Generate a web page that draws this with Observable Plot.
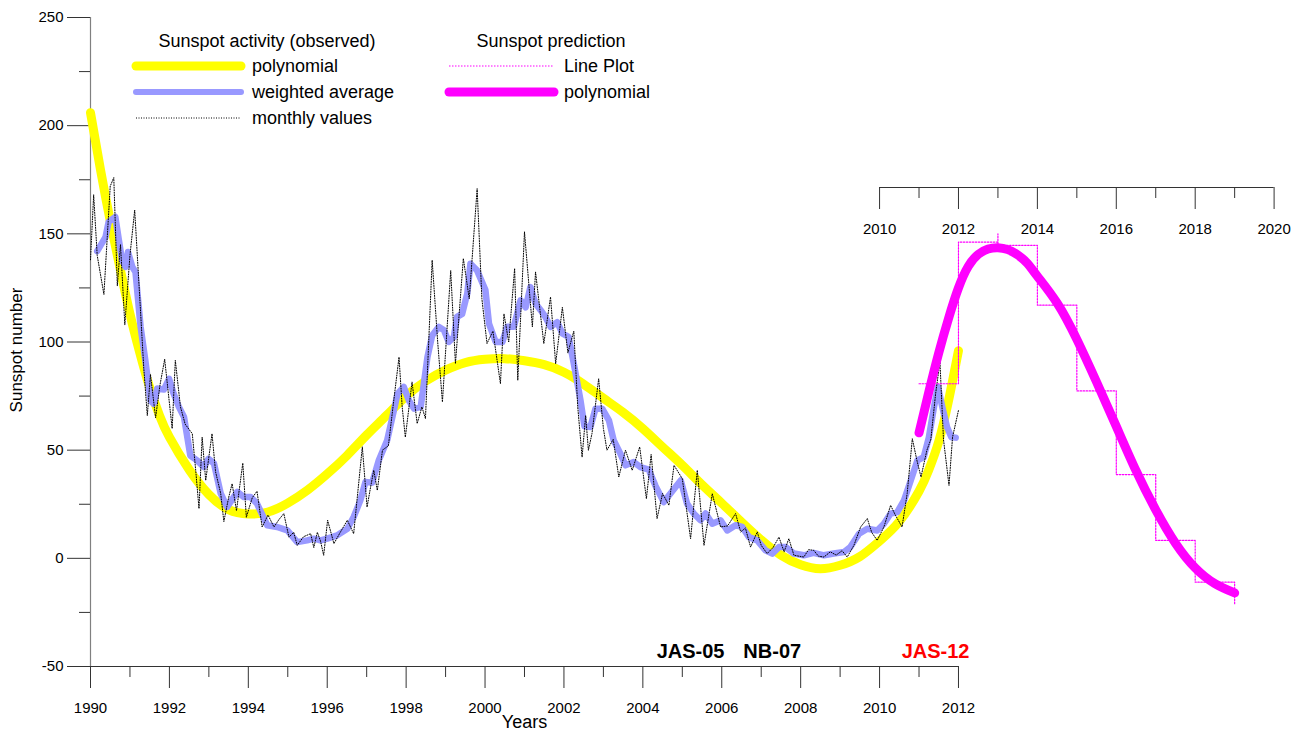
<!DOCTYPE html>
<html>
<head>
<meta charset="utf-8">
<script src="https://cdn.jsdelivr.net/npm/d3@7"></script>
<script src="https://cdn.jsdelivr.net/npm/@observablehq/plot@0.6"></script>
<style>
  body { margin: 0; background: #fff; font-family: Arial, "Liberation Sans", sans-serif; }
  #wrap { position: relative; width: 1300px; height: 736px; }
  #wrap svg { display: block; }
</style>
</head>
<body>
<div id="wrap"></div>
<script>
// ---------------- DATA ----------------
// Observed sunspot activity – polynomial fit
const polyObsYears  = [1990,1990.25,1990.5,1990.75,1991,1991.25,1991.5,1991.75,1992,1992.5,1993,1993.5,1994,1994.5,1995,1995.5,1996,1996.5,1997,1997.5,1998,1998.5,1999,1999.5,2000,2000.5,2001,2001.5,2002,2002.5,2003,2003.5,2004,2004.5,2005,2005.5,2006,2006.5,2007,2007.5,2008,2008.5,2009,2009.5,2010,2010.5,2011,2011.25,2011.5,2011.75,2012];
const polyObsValues = [206,180,156,134,113,95,79,66,56,41,29.5,22.5,20.5,21.4,25.5,31.5,39,47.5,57,66,75,82,87,90.5,92,92.3,91.3,89.5,86,80.5,74,67.5,60,51.5,43,34,25.5,16.8,8.5,1.5,-3,-4.8,-3.2,0.8,8,17,31,41,54,73,96];

// Observed – weighted average  [year, value]
const weightedAverage = [[1990.17,142],[1990.38,148.5],[1990.46,155.5],[1990.63,157.8],[1990.72,147],[1990.80,137.8],[1990.89,134.7],[1990.95,141.6],[1991.06,134.7],[1991.14,132.4],[1991.27,107],[1991.39,91.5],[1991.52,73],[1991.60,71.5],[1991.69,78.5],[1991.86,78],[1991.99,83],[1992.11,76],[1992.24,70],[1992.37,65.3],[1992.53,47.5],[1992.70,45.3],[1992.87,42.2],[1992.99,46],[1993.13,43.8],[1993.30,30],[1993.46,23.7],[1993.72,30.7],[1993.89,28.3],[1994.06,28.3],[1994.22,25.3],[1994.48,15.3],[1994.73,14.5],[1994.99,12.9],[1995.24,7.5],[1995.49,8.3],[1995.66,9.1],[1995.83,8.3],[1996.00,9.1],[1996.25,10.6],[1996.51,13.7],[1996.67,19.1],[1996.84,26.8],[1996.97,35.3],[1997.14,35],[1997.31,45.5],[1997.52,54.6],[1997.69,68.4],[1997.78,76],[1997.94,79.2],[1998.07,73],[1998.20,69.2],[1998.37,70],[1998.54,93],[1998.66,103],[1998.83,107],[1998.96,105.4],[1999.08,100],[1999.21,102.3],[1999.29,111.6],[1999.42,113],[1999.55,122.4],[1999.63,136.2],[1999.80,133],[2000.01,124],[2000.10,108.5],[2000.27,100],[2000.44,100],[2000.56,107],[2000.73,107],[2000.90,119.3],[2001.03,116],[2001.15,125.4],[2001.28,117.8],[2001.41,114.7],[2001.53,111.6],[2001.66,107],[2001.83,109.2],[2001.96,104],[2002.12,102.3],[2002.25,90],[2002.42,73],[2002.52,61],[2002.67,60.7],[2002.80,69.2],[2002.97,69.2],[2003.14,63.8],[2003.26,54.6],[2003.43,48.4],[2003.56,43],[2003.77,44.5],[2003.94,42.2],[2004.15,41],[2004.32,33.5],[2004.53,26],[2004.70,30],[2004.96,36],[2005.12,25.3],[2005.29,20.7],[2005.46,17.6],[2005.59,20.7],[2005.76,16],[2005.97,17.6],[2006.14,12.9],[2006.35,15.3],[2006.52,14.5],[2006.69,9.8],[2006.90,8.3],[2007.11,3.7],[2007.28,2.2],[2007.45,5.2],[2007.62,5.2],[2007.83,2.2],[2008.08,1.4],[2008.33,2.5],[2008.59,1.4],[2008.84,2.2],[2009.10,2.9],[2009.26,5.2],[2009.48,11.4],[2009.69,13.7],[2009.94,12.9],[2010.11,16],[2010.28,20.7],[2010.45,21.4],[2010.62,26.8],[2010.79,36],[2010.96,45.3],[2011.12,46.8],[2011.25,56],[2011.38,70],[2011.48,79.2],[2011.59,70],[2011.71,60.7],[2011.82,56],[2011.93,55.8]];

// Observed – monthly values  [year, value]
const monthlyValues = [[1990.00,138],[1990.08,168],[1990.17,140],[1990.34,122],[1990.50,172],[1990.59,176],[1990.68,126],[1990.76,145],[1990.87,108],[1991.00,140],[1991.12,161],[1991.25,120],[1991.35,88],[1991.44,66],[1991.52,85],[1991.65,65],[1991.76,80],[1991.88,92],[1992.07,60],[1992.15,91.5],[1992.28,70],[1992.40,62],[1992.58,57.6],[1992.67,40],[1992.75,23],[1992.83,56],[1992.92,36],[1993.08,57.6],[1993.17,40],[1993.30,30],[1993.38,17],[1993.50,28],[1993.59,34.5],[1993.70,22],[1993.86,44],[1993.95,19],[1994.10,28],[1994.22,31],[1994.35,14.5],[1994.50,20],[1994.65,14.5],[1994.78,18],[1994.90,20.7],[1995.03,9.8],[1995.15,12],[1995.24,6],[1995.40,10],[1995.58,11.4],[1995.66,5],[1995.75,12],[1995.83,8],[1995.91,1.4],[1996.01,17.6],[1996.17,6.8],[1996.33,12],[1996.51,17.6],[1996.67,11.4],[1996.89,51.5],[1997.01,23.7],[1997.10,33],[1997.18,40.7],[1997.27,31.4],[1997.40,50],[1997.55,52],[1997.70,75],[1997.82,93],[1997.90,70],[1997.98,56],[1998.15,81.5],[1998.28,62.3],[1998.40,70],[1998.49,64.6],[1998.66,137.8],[1998.80,100],[1998.92,72.3],[1999.13,133],[1999.25,90],[1999.45,138.6],[1999.60,120],[1999.80,170.9],[1999.92,120],[2000.05,99.3],[2000.20,105],[2000.39,80.8],[2000.48,113],[2000.60,100],[2000.75,134],[2000.83,82.3],[2001.00,150.9],[2001.20,107],[2001.28,132.4],[2001.49,99.3],[2001.66,120.8],[2001.79,90],[2001.96,116],[2002.10,95],[2002.25,105],[2002.35,70],[2002.46,46.8],[2002.55,66],[2002.62,50],[2002.71,57.6],[2002.88,83],[2003.00,60],[2003.09,50],[2003.25,55],[2003.39,37.6],[2003.56,50],[2003.73,40.7],[2003.92,51.5],[2004.09,27.6],[2004.21,48],[2004.36,18.4],[2004.50,30],[2004.66,24.5],[2004.79,43],[2005.00,36.8],[2005.21,9.1],[2005.38,40.7],[2005.55,6],[2005.76,29.9],[2005.97,14.5],[2006.15,15],[2006.35,20.7],[2006.48,12.2],[2006.60,14],[2006.73,5.2],[2006.90,12.2],[2007.00,6],[2007.15,2.2],[2007.30,5],[2007.45,9.8],[2007.58,3],[2007.70,9.1],[2007.83,1.4],[2008.08,0.6],[2008.20,4],[2008.33,3.7],[2008.45,1],[2008.59,0.6],[2008.75,3],[2008.90,1.5],[2009.05,3.5],[2009.18,0.6],[2009.35,6],[2009.52,14.5],[2009.69,18.4],[2009.80,12],[2009.94,8.3],[2010.11,14.5],[2010.28,24.5],[2010.40,20],[2010.57,14.5],[2010.70,30],[2010.83,55.3],[2010.95,45],[2011.05,37.6],[2011.20,50],[2011.30,55],[2011.42,76],[2011.53,90.8],[2011.62,55],[2011.76,33.7],[2011.85,56],[2012.00,68.4]];

// Prediction – polynomial
const predYears  = [2011,2011.25,2011.5,2011.75,2012,2012.25,2012.5,2012.75,2013,2013.25,2013.5,2013.75,2014,2014.5,2015,2015.5,2016,2016.5,2017,2017.5,2018,2018.5,2019];
const predValues = [58,77,95,111,125,135,140.5,143,143.6,142.7,140.3,136.3,130.4,118,101.2,81.5,61,40.5,22.4,7,-4.4,-11.7,-16];

// Prediction – line plot (yearly steps)
const stepYears  = [2011,2012,2013,2013,2014,2015,2016,2017,2018,2019];
const stepValues = [80.7,146.2,150,144.7,117,77.4,38.7,8.3,-11,-21];

// Axes
const yDomain = [-50, 250];
const xDomain = [1990, 2020];
const yMajorTicks = [-50, 0, 50, 100, 150, 200, 250];
const yMinorTicks = [-25, 25, 75, 125, 175, 225];
const xAxisExtent = [1990, 2012];
const xMajorTicks = [1990,1992,1994,1996,1998,2000,2002,2004,2006,2008,2010,2012];
const xMinorTicks = [1991,1993,1995,1997,1999,2001,2003,2005,2007,2009,2011];
const topAxisExtent = [2010, 2020];
const topMajorTicks = [2010,2012,2014,2016,2018,2020];
const topMinorTicks = [2011,2013,2015,2017,2019];

// Annotations
const annLabels = ["JAS-05", "NB-07", "JAS-12"];
const annYears  = [2005.21, 2007.28, 2011.42];
const annValue  = -43;
const annHighlight = [false, false, true];

// ---------------- BUILD ----------------
const polyObs = polyObsYears.map((x, i) => ({x, y: polyObsValues[i]}));
const weighted = weightedAverage.map(([x, y]) => ({x, y}));
const monthly = monthlyValues.map(([x, y]) => ({x, y}));
const pred = predYears.map((x, i) => ({x, y: predValues[i]}));
const steps = stepYears.map((x, i) => ({x, y: stepValues[i]}));
const annotations = annLabels.map((label, i) => ({label, x: annYears[i], y: annValue, hl: annHighlight[i]}));

const topShift = -479; // secondary axis drawn higher in the frame
const axisStroke = "#333";
const tickFont = 15;

const chart = Plot.plot({
  width: 1300,
  height: 736,
  marginLeft: 90,
  marginRight: 26.4,
  marginTop: 17,
  marginBottom: 70,
  x: {domain: xDomain},
  y: {domain: yDomain},
  style: {fontFamily: "Arial, 'Liberation Sans', sans-serif", fontSize: "15px", color: "black", background: "white", overflow: "visible"},
  marks: [
    // axes
    Plot.ruleX([xAxisExtent[0]], {y1: yDomain[0], y2: yDomain[1], stroke: "#808080", strokeWidth: 1.2}),
    Plot.ruleY([yDomain[0]], {x1: xAxisExtent[0], x2: xAxisExtent[1], stroke: axisStroke}),
    Plot.axisY(yMajorTicks, {anchor: "left", tickSize: 23, tickPadding: 4, tickFormat: d => String(d), label: null, stroke: axisStroke, fontSize: tickFont}),
    Plot.axisY(yMinorTicks, {anchor: "left", tickSize: 11, tickFormat: () => "", label: null, stroke: axisStroke}),
    Plot.axisX(xMajorTicks, {anchor: "bottom", tickSize: 22, tickPadding: 14, tickFormat: d => String(d), label: null, stroke: axisStroke, fontSize: tickFont}),
    Plot.axisX(xMinorTicks, {anchor: "bottom", tickSize: 11, tickFormat: () => "", label: null, stroke: axisStroke}),
    Plot.ruleY([yDomain[0]], {x1: topAxisExtent[0], x2: topAxisExtent[1], dy: topShift, stroke: axisStroke}),
    Plot.axisX(topMajorTicks, {anchor: "bottom", dy: topShift, tickSize: 22, tickPadding: 14, tickFormat: d => String(d), label: null, stroke: axisStroke, fontSize: tickFont}),
    Plot.axisX(topMinorTicks, {anchor: "bottom", dy: topShift, tickSize: 11, tickFormat: () => "", label: null, stroke: axisStroke}),
    // axis titles
    Plot.text(["Sunspot number"], {frameAnchor: "left", textAnchor: "middle", rotate: -90, dx: -74, dy: 8, fontSize: 17}),
    Plot.text(["Years"], {x: [d3.mean(xAxisExtent)], frameAnchor: "bottom", dy: 61, fontSize: 18}),
    // series
    Plot.line(polyObs, {x: "x", y: "y", stroke: "#ffff00", strokeWidth: 9, curve: "natural", strokeLinecap: "round"}),
    Plot.line(weighted, {x: "x", y: "y", stroke: "#9999ff", strokeWidth: 6.5, strokeLinecap: "round", strokeLinejoin: "round"}),
    Plot.line(monthly, {x: "x", y: "y", stroke: "black", strokeWidth: 1, strokeDasharray: "1,1.5"}),
    Plot.line(steps, {x: "x", y: "y", stroke: "#ff00ff", strokeWidth: 1.2, strokeDasharray: "1.5,1.5", curve: "step-after"}),
    Plot.line(pred, {x: "x", y: "y", stroke: "#ff00ff", strokeWidth: 9, curve: "natural", strokeLinecap: "round"}),
    // annotations
    Plot.text(annotations.filter(d => !d.hl), {x: "x", y: "y", text: "label", fill: "black", fontSize: 20, fontWeight: "bold"}),
    Plot.text(annotations.filter(d => d.hl), {x: "x", y: "y", text: "label", fill: "#ff0000", fontSize: 20, fontWeight: "bold"})
  ]
});

const wrap = document.getElementById("wrap");
wrap.appendChild(chart);

// ---------------- LEGEND (overlay) ----------------
const legendGroups = [
  {title: "Sunspot activity (observed)", titleX: 267, lineX: [136, 241], textX: 252,
   items: [
     {label: "polynomial", stroke: "#ffff00", width: 9, dash: null},
     {label: "weighted average", stroke: "#9999ff", width: 6, dash: null},
     {label: "monthly values", stroke: "black", width: 1, dash: "1,1.5"}
   ]},
  {title: "Sunspot prediction", titleX: 551, lineX: [449, 554], textX: 564,
   items: [
     {label: "Line Plot", stroke: "#ff00ff", width: 1.2, dash: "1.5,1.5"},
     {label: "polynomial", stroke: "#ff00ff", width: 9, dash: null}
   ]}
];
const legend = d3.create("svg")
  .attr("width", 1300).attr("height", 140)
  .style("position", "absolute").style("left", "0px").style("top", "0px")
  .style("pointer-events", "none")
  .style("font-family", "Arial, 'Liberation Sans', sans-serif");
for (const g of legendGroups) {
  legend.append("text").attr("x", g.titleX).attr("y", 41).attr("dy", "0.35em")
    .attr("text-anchor", "middle").attr("font-size", 18).text(g.title);
  g.items.forEach((it, i) => {
    const y = 66 + i * 26;
    legend.append("line").attr("x1", g.lineX[0]).attr("x2", g.lineX[1]).attr("y1", y).attr("y2", y)
      .attr("stroke", it.stroke).attr("stroke-width", it.width)
      .attr("stroke-linecap", it.dash ? "butt" : "round")
      .attr("stroke-dasharray", it.dash);
    legend.append("text").attr("x", g.textX).attr("y", y).attr("dy", "0.35em")
      .attr("font-size", 18).text(it.label);
  });
}
wrap.appendChild(legend.node());
</script>
</body>
</html>
